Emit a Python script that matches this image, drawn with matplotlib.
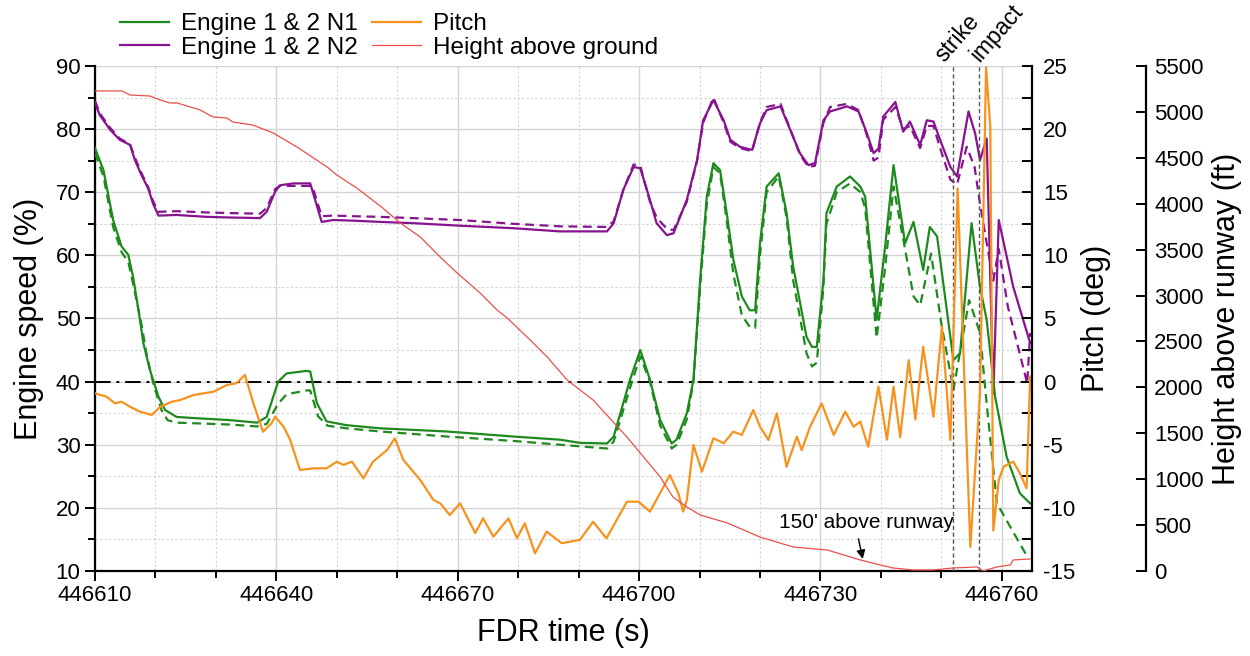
import numpy as np
import matplotlib.pyplot as plt
from matplotlib.ticker import MultipleLocator
import matplotlib.transforms as mtransforms

plt.rcParams["font.family"] = ["Liberation Sans", "DejaVu Sans"]
plt.rcParams["axes.unicode_minus"] = False

# -------------------------
# FDR data (time as seconds after 446610)
# -------------------------
T0 = 446610

# Engine 1 & 2 N2 (%)
n2_t = [0.0, 0.8, 2.5, 4.1, 5.8, 6.6, 7.7, 8.8, 9.6, 10.5, 13.5, 18.5, 22.3, 27.3,
        28.4, 29.8, 30.6, 32.8, 35.6, 36.1, 37.5, 39.4, 42.7, 47.2, 52.6, 60.4, 69.2,
        76.9, 84.7, 85.8, 87.4, 89.1, 90.2, 91.8, 92.9, 94.6, 95.7, 97.9, 99.6, 100.6,
        102.3, 104.0, 105.1, 106.7, 108.7, 110.0, 111.1, 113.4, 115.0, 116.6, 118.0,
        119.1, 120.5, 121.6, 124.4, 126.3, 127.7, 128.8, 129.6, 130.4, 132.4, 133.7,
        134.8, 136.5, 137.6, 138.7, 139.8, 141.5, 142.6, 144.5, 145.6, 146.4, 147.5,
        148.6, 149.5, 151.9, 154.7]
n2_eng1 = [84.1, 82.2, 79.9, 78.3, 77.5, 75.1, 72.7, 70.6, 68.2, 66.3, 66.4, 66.1, 66.0,
           65.9, 66.9, 70.1, 71.1, 71.4, 71.4, 69.8, 65.3, 65.6, 65.5, 65.3, 65.1, 64.7,
           64.3, 63.8, 63.8, 65.1, 70.4, 74.0, 73.8, 68.8, 65.1, 63.2, 63.5, 68.8, 75.1,
           81.4, 84.6, 81.4, 78.3, 77.2, 76.7, 80.9, 83.0, 83.6, 79.9, 76.2, 74.3, 74.6,
           81.4, 82.8, 83.6, 82.8, 79.3, 76.2, 76.9, 82.0, 84.3, 79.6, 81.2, 77.5, 81.4,
           81.2, 78.3, 74.0, 72.5, 82.8, 79.3, 75.1, 78.5, 38.1, 65.6, 55.0, 46.1]

n2b_t = [0.0, 0.8, 2.5, 4.1, 5.8, 6.6, 7.7, 8.8, 9.6, 10.5, 13.5, 18.5, 22.3, 27.3,
         28.4, 29.8, 30.6, 32.8, 35.6, 36.1, 37.5, 39.4, 42.7, 47.2, 52.6, 60.4, 69.2,
         76.9, 84.7, 85.8, 87.4, 89.1, 90.2, 91.8, 92.9, 94.6, 95.7, 97.9, 99.6, 100.6,
         102.3, 104.0, 105.1, 106.7, 108.7, 110.0, 111.1, 113.4, 115.0, 116.6, 118.0,
         119.1, 120.5, 121.6, 124.4, 126.3, 127.7, 128.8, 129.6, 130.4, 132.4, 133.7,
         134.8, 136.5, 137.6, 138.7, 139.8, 141.5, 142.6, 144.2, 145.5, 146.4, 147.5,
         148.6, 149.5, 151.0, 153.8, 154.2, 154.7]
n2_eng2 = [84.5, 82.5, 80.2, 78.5, 77.6, 75.5, 73.0, 70.8, 68.6, 66.9, 67.0, 66.8, 66.7,
           66.6, 67.5, 70.5, 71.0, 71.0, 71.0, 70.5, 66.2, 66.3, 66.2, 66.1, 65.9, 65.6,
           65.0, 64.6, 64.5, 65.4, 70.4, 74.4, 74.2, 68.5, 66.0, 64.2, 64.0, 68.5, 75.0,
           81.0, 85.0, 81.0, 78.0, 77.0, 76.5, 81.0, 83.5, 84.0, 80.0, 76.0, 74.0, 74.2,
           81.0, 83.5, 84.0, 83.0, 79.0, 75.0, 75.5, 81.5, 83.5, 80.0, 80.5, 77.0, 80.5,
           80.5, 77.0, 72.0, 71.2, 77.2, 74.0, 68.2, 62.0, 56.0, 61.0, 51.9, 41.3, 39.7,
           47.7]

# Engine 1 & 2 N1 (%)
n1_t = [0.0, 1.4, 3.0, 4.4, 5.5, 6.3, 7.2, 8.0, 9.1, 10.5, 11.6, 13.5, 16.8, 22.3, 26.8,
        28.4, 30.3, 31.7, 35.0, 35.6, 36.7, 38.3, 41.6, 47.2, 58.2, 69.2, 76.9, 80.2,
        84.7, 85.8, 88.5, 90.2, 91.8, 93.5, 95.4, 96.2, 97.9, 99.0, 100.1, 101.2, 102.3,
        103.4, 104.5, 105.6, 107.0, 108.3, 109.2, 110.0, 111.1, 113.1, 114.4, 115.5,
        117.7, 118.6, 119.4, 120.5, 121.0, 122.7, 124.9, 126.6, 127.4, 129.3, 130.7,
        132.1, 134.0, 135.4, 137.0, 138.1, 139.3, 142.0, 143.1, 145.0, 146.4, 147.5,
        148.9, 150.8, 153.0, 154.7]
n1_eng1 = [77.0, 73.5, 65.6, 61.4, 60.1, 56.6, 51.3, 46.1, 41.8, 37.6, 35.5, 34.4, 34.2,
           33.9, 33.5, 34.4, 40.0, 41.3, 41.7, 41.6, 36.6, 33.7, 33.1, 32.6, 32.1, 31.3,
           30.8, 30.3, 30.2, 31.3, 40.3, 45.0, 40.3, 33.9, 30.2, 30.8, 35.0, 40.3, 56.1,
           69.3, 74.6, 73.5, 66.7, 59.3, 53.5, 51.3, 51.3, 61.9, 70.9, 73.0, 66.7, 58.2,
           47.1, 45.5, 45.5, 56.1, 66.7, 70.9, 72.5, 70.9, 69.3, 49.8, 61.4, 74.3, 61.9,
           65.3, 57.7, 64.5, 63.0, 43.4, 44.5, 65.1, 55.0, 49.8, 37.6, 28.1, 22.3, 20.7]

n1b_t = [0.0, 1.4, 3.0, 4.4, 5.5, 6.3, 7.7, 8.6, 9.7, 11.0, 12.0, 13.5, 22.3, 26.8, 28.4,
         30.3, 31.7, 35.0, 35.6, 36.9, 38.5, 41.6, 47.2, 58.2, 69.2, 76.9, 84.7, 85.8,
         88.5, 90.2, 91.8, 93.5, 95.4, 96.2, 97.9, 99.0, 100.1, 101.2, 102.3, 103.4,
         104.5, 105.6, 107.0, 108.3, 109.2, 110.0, 111.1, 113.1, 114.4, 115.5, 117.7,
         118.6, 119.4, 120.5, 121.0, 122.7, 124.9, 126.6, 127.4, 129.3, 130.7, 132.1,
         134.0, 135.4, 136.5, 138.3, 140.0, 142.0, 144.6, 146.4, 147.5, 149.2, 154.2]
n1_eng2 = [76.2, 72.5, 64.5, 60.5, 59.0, 55.5, 49.0, 44.0, 39.5, 35.5, 33.9, 33.5, 33.2,
           32.9, 33.3, 36.5, 38.0, 38.6, 38.6, 34.5, 33.0, 32.6, 32.1, 31.3, 30.6, 30.0,
           29.4, 30.5, 39.0, 44.0, 40.0, 33.0, 29.4, 30.0, 34.0, 40.0, 55.0, 68.0, 74.0,
           73.0, 65.5, 57.0, 50.5, 48.7, 48.5, 60.0, 70.0, 72.5, 66.0, 56.0, 44.5, 42.4,
           43.0, 55.0, 65.0, 70.0, 71.4, 70.0, 67.5, 46.9, 58.0, 70.9, 61.0, 53.5, 52.1,
           60.3, 49.2, 38.7, 52.9, 47.7, 36.5, 20.7, 12.3]

# Pitch (deg)
pitch_t = [0.0, 1.9, 3.3, 4.4, 5.8, 7.4, 9.4, 10.8, 12.7, 14.1, 16.3, 19.6, 21.8, 23.4,
           24.8, 26.2, 27.8, 29.2, 29.8, 31.2, 32.3, 33.9, 36.1, 38.3, 40.0, 41.1, 42.5,
           44.4, 46.0, 48.3, 49.6, 51.0, 53.8, 56.0, 57.1, 58.7, 60.4, 62.9, 64.2, 65.9,
           68.4, 69.8, 71.1, 72.8, 74.7, 77.2, 80.2, 82.4, 84.6, 88.0, 89.9, 91.8, 95.1,
           96.5, 97.3, 97.9, 99.0, 100.4, 102.3, 104.0, 105.6, 107.0, 108.9, 110.0, 111.4,
           112.8, 114.4, 116.1, 116.9, 118.3, 120.2, 122.2, 124.1, 125.5, 126.6, 127.9,
           129.6, 131.0, 132.1, 133.2, 134.6, 135.7, 137.0, 138.7, 140.1, 141.5, 142.7,
           144.8, 146.4, 147.4, 148.1, 148.6, 149.5, 150.3, 151.9, 153.0, 154.1, 154.7]
pitch = [-0.93, -1.19, -1.72, -1.59, -1.99, -2.38, -2.64, -1.99, -1.59, -1.46, -1.06,
         -0.80, -0.27, -0.13, 0.53, -1.72, -3.97, -3.30, -2.78, -3.57, -4.62, -7.0, -6.87,
         -6.87, -6.34, -6.6, -6.34, -7.66, -6.34, -5.42, -4.49, -6.2, -7.79, -9.38, -9.64,
         -10.57, -9.64, -12.0, -10.83, -12.28, -10.83, -12.41, -11.22, -13.6, -11.88,
         -12.8, -12.54, -11.1, -12.41, -9.51, -9.51, -10.3, -7.4, -8.85, -10.3, -9.38,
         -5.02, -7.13, -4.49, -4.88, -3.96, -4.23, -2.25, -3.57, -4.62, -2.51, -6.74,
         -4.36, -5.42, -3.57, -1.72, -4.23, -2.38, -3.57, -3.17, -5.15, -0.4, -4.6, -0.4,
         -4.4, 1.7, -3.0, 2.77, -2.78, 4.35, -4.62, 15.3, -13.1, -0.9, 24.9, 20.2, -11.8,
         -7.8, -6.74, -6.34, -7.26, -8.45, 0.4]

# Height above runway (ft)
hgt_t = [0.0, 4.5, 5.8, 9.1, 10.8, 12.4, 13.6, 17.4, 19.5, 21.8, 22.8, 26.1, 29.5, 33.4,
         38.4, 40.0, 43.3, 47.2, 50.5, 53.8, 57.1, 59.9, 63.7, 66.5, 68.2, 72.5, 74.8,
         78.1, 82.4, 88.0, 93.5, 95.6, 97.9, 100.1, 104.6, 110.0, 115.5, 121.1, 126.6,
         129.9, 132.0, 135.3, 138.6, 142.0, 145.9, 146.9, 149.2, 151.4, 151.9, 154.7]
hgt = [5228, 5228, 5184, 5173, 5130, 5097, 5097, 5021, 4945, 4934, 4890, 4857, 4770, 4618,
       4400, 4313, 4171, 3975, 3790, 3638, 3420, 3246, 3028, 2843, 2755, 2483, 2331, 2080,
       1862, 1459, 1024, 806, 697, 610, 523, 370, 261, 229, 120, 65, 33, 11, 11, 33, 44,
       0, 44, 65, 120, 131]

# event lines and where their labels start
events = {"strike": (142.0, 141.1), "impact": (146.2, 146.9)}

# -------------------------
# Figure
# -------------------------
green = "#1e8a1e"
purple = "#87138f"
orange = "#f7921e"
red = "#e8504b"

fig = plt.figure(figsize=(12.5, 6.56), dpi=100)
ax = fig.add_axes([0.076, 0.1296, 0.7496, 0.7698])
ax2 = ax.twinx()
ax3 = ax.twinx()


def secs(v):
    return T0 + np.array(v)


dash = (0, (4, 2.5))

# engine speeds
ax.plot(secs(n2_t), n2_eng1, color=purple, lw=1.6, zorder=4)
ax.plot(secs(n2b_t), n2_eng2, color=purple, lw=1.6, ls=dash, zorder=4)
ax.plot(secs(n1_t), n1_eng1, color=green, lw=1.6, zorder=4)
ax.plot(secs(n1b_t), n1_eng2, color=green, lw=1.6, ls=dash, zorder=4)
ax.axhline(40, color="black", lw=1.4, ls=(0, (8, 3, 1.5, 3)), zorder=3)

# pitch and height
ax2.plot(secs(pitch_t), pitch, color=orange, lw=1.6)
ax3.plot(secs(hgt_t), hgt, color=red, lw=0.9)

trans = mtransforms.blended_transform_factory(ax.transData, ax.transAxes)
for name, (sec, label_sec) in events.items():
    ax.axvline(T0 + sec, color="#555555", lw=1.0, ls=(0, (3, 2)), zorder=5)
    ax.text(T0 + label_sec, 1.0, name, transform=trans, rotation=49,
            rotation_mode="anchor", ha="left", va="bottom", fontsize=16.5)

# 150 ft annotation
ax3.annotate("", xy=(T0 + 127.1, 101), xytext=(T0 + 126.2, 380),
             arrowprops=dict(arrowstyle="-|>", color="black", lw=1.0,
                             mutation_scale=13))
ax3.text(T0 + 127.6, 523, "150' above runway", fontsize=15, ha="center",
         va="center")

# axes limits and ticks
ax.set_xlim(T0, T0 + 155.0)
ax.set_ylim(10, 90)
ax2.set_ylim(-15, 25)
ax3.set_ylim(0, 5500)

ax.xaxis.set_major_locator(MultipleLocator(30))
ax.xaxis.set_minor_locator(MultipleLocator(10))
ax.yaxis.set_major_locator(MultipleLocator(10))
ax.yaxis.set_minor_locator(MultipleLocator(5))
ax2.yaxis.set_major_locator(MultipleLocator(5))
ax2.yaxis.set_minor_locator(MultipleLocator(2.5))
ax3.yaxis.set_major_locator(MultipleLocator(500))

ax.grid(which="major", color="#d4d4d4", lw=1.0)
ax.grid(which="minor", color="#d4d4d4", lw=0.8, ls=(0, (2, 2)))
ax.set_axisbelow(True)

for s in ["top", "right"]:
    ax.spines[s].set_visible(False)
for s in ["top", "left", "bottom"]:
    ax2.spines[s].set_visible(False)
    ax3.spines[s].set_visible(False)
ax3.spines["right"].set_position(("outward", 82))
for a, s in [(ax, "left"), (ax, "bottom"), (ax2, "right"), (ax3, "right")]:
    a.spines[s].set_linewidth(1.6)

ax.tick_params(axis="both", which="major", direction="out", length=7, width=1.4,
               labelsize=16)
ax.tick_params(axis="both", which="minor", direction="out", length=5, width=1.4)
ax.tick_params(axis="x", pad=3)
ax2.tick_params(which="both", direction="in", length=7, width=1.4, labelsize=16, pad=8)
ax3.tick_params(which="both", direction="in", length=7, width=1.4, labelsize=16, pad=6)

ax.set_xlabel("FDR time (s)", fontsize=22, labelpad=9)
ax.set_ylabel("Engine speed (%)", fontsize=22, labelpad=8)
ax2.set_ylabel("Pitch (deg)", fontsize=22, labelpad=4)
ax3.set_ylabel("Height above runway (ft)", fontsize=22, labelpad=6)

handles = [
    plt.Line2D([], [], color=green, lw=1.6),
    plt.Line2D([], [], color=purple, lw=1.6),
    plt.Line2D([], [], color=orange, lw=1.6),
    plt.Line2D([], [], color=red, lw=0.9),
]
labels = ["Engine 1 & 2 N1", "Engine 1 & 2 N2", "Pitch", "Height above ground"]
fig.legend(handles, labels, ncol=2, loc="upper left", bbox_to_anchor=(0.0864, 0.998),
           frameon=False, fontsize=17.5, handlelength=2.0, handletextpad=0.5,
           columnspacing=0.6, labelspacing=0.05, borderpad=0)

fig.savefig("out.png", dpi=100)
